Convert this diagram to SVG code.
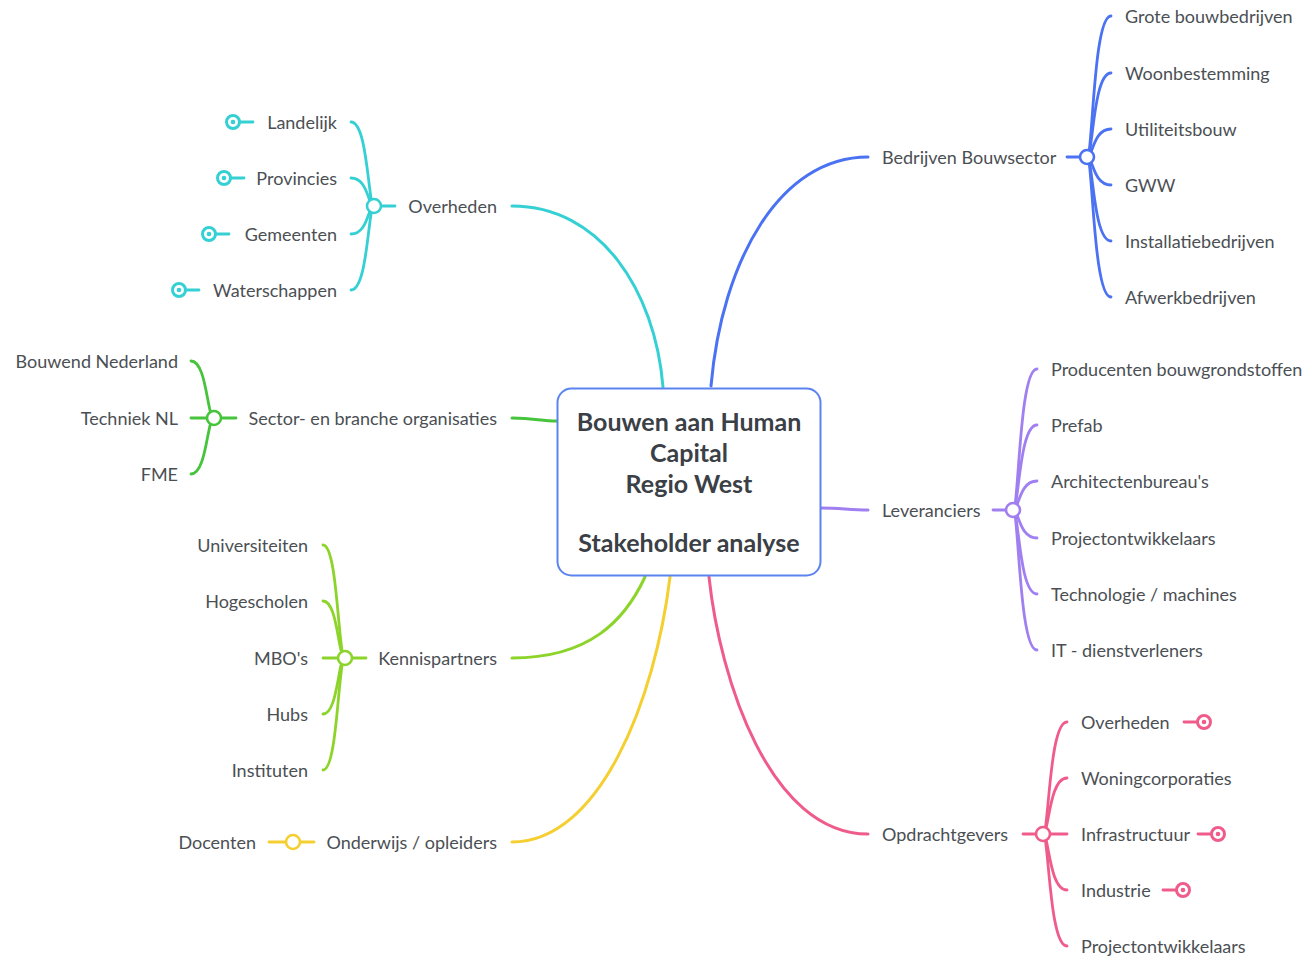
<svg xmlns="http://www.w3.org/2000/svg" width="1307" height="956" viewBox="0 0 1307 956">
<style>
text{font-family:Lato,"Noto Sans","Liberation Sans",sans-serif;font-size:18px;fill:#4b4f54;dominant-baseline:central}
.c{font-weight:bold;font-size:25px;fill:#3b4046;text-anchor:middle}
.e{text-anchor:end}
path,line{fill:none;stroke-linecap:round}
.m{stroke-width:3}
.s{stroke-width:2.8}
.j{fill:#fff;stroke-width:2.6}
.k{fill:#fff;stroke-width:3}
.cy{stroke:#35d0d4}.cyf{fill:#35d0d4}
.bl{stroke:#4a72f2}
.gr{stroke:#46c43c}
.li{stroke:#8cd42a}
.ye{stroke:#f5cf30}
.pu{stroke:#a07ff0}
.pk{stroke:#ef5c8b}.pkf{fill:#ef5c8b}
</style>
<rect width="1307" height="956" fill="#fff"/>
<g id="connectors">
<path class="m cy" d="M512,206 C600,206 655,290 663,387"/>
<path class="m bl" d="M868,157 C780,157 722,260 711,386"/>
<path class="m gr" d="M512,418 C535,418 540,421 557,421"/>
<path class="m pu" d="M821,508 C840,508 850,510 868,510"/>
<path class="m li" d="M512,658 C590,658 625,620 645,577"/>
<path class="m ye" d="M512,842 C600,842 655,700 670,577"/>
<path class="m pk" d="M868,834 C770,834 720,680 709,577"/>
<!-- cyan -->
<line class="s cy" x1="374" y1="206" x2="395" y2="206"/>
<path class="s cy" d="M374,206 C368,206 368,122 351,122"/>
<path class="s cy" d="M374,206 C368,206 368,178 351,178"/>
<path class="s cy" d="M374,206 C368,206 368,234 351,234"/>
<path class="s cy" d="M374,206 C368,206 368,290 351,290"/>
<!-- blue -->
<line class="s bl" x1="1067" y1="157" x2="1087" y2="157"/>
<path class="s bl" d="M1087,157 C1093,157 1093,16 1111,16"/>
<path class="s bl" d="M1087,157 C1093,157 1093,73 1111,73"/>
<path class="s bl" d="M1087,157 C1093,157 1093,129 1111,129"/>
<path class="s bl" d="M1087,157 C1093,157 1093,185 1111,185"/>
<path class="s bl" d="M1087,157 C1093,157 1093,241 1111,241"/>
<path class="s bl" d="M1087,157 C1093,157 1093,297 1111,297"/>
<!-- green -->
<line class="s gr" x1="214" y1="418" x2="236" y2="418"/>
<line class="s gr" x1="191" y1="418" x2="214" y2="418"/>
<path class="s gr" d="M214,418 C207,418 207,361 191,361"/>
<path class="s gr" d="M214,418 C207,418 207,474 191,474"/>
<!-- purple -->
<line class="s pu" x1="993" y1="510" x2="1013" y2="510"/>
<path class="s pu" d="M1013,510 C1019,510 1019,369 1037,369"/>
<path class="s pu" d="M1013,510 C1019,510 1019,425 1037,425"/>
<path class="s pu" d="M1013,510 C1019,510 1019,481 1037,481"/>
<path class="s pu" d="M1013,510 C1019,510 1019,538 1037,538"/>
<path class="s pu" d="M1013,510 C1019,510 1019,594 1037,594"/>
<path class="s pu" d="M1013,510 C1019,510 1019,650 1037,650"/>
<!-- lime -->
<line class="s li" x1="345" y1="658" x2="366" y2="658"/>
<line class="s li" x1="323" y1="658" x2="345" y2="658"/>
<path class="s li" d="M345,658 C338,658 338,545 323,545"/>
<path class="s li" d="M345,658 C338,658 338,601 323,601"/>
<path class="s li" d="M345,658 C338,658 338,714 323,714"/>
<path class="s li" d="M345,658 C338,658 338,770 323,770"/>
<!-- yellow -->
<line class="s ye" x1="293" y1="842" x2="314" y2="842"/>
<line class="s ye" x1="269" y1="842" x2="293" y2="842"/>
<!-- pink -->
<line class="s pk" x1="1023" y1="834" x2="1043" y2="834"/>
<line class="s pk" x1="1043" y1="834" x2="1067" y2="834"/>
<path class="s pk" d="M1043,834 C1049,834 1049,722 1067,722"/>
<path class="s pk" d="M1043,834 C1049,834 1049,778 1067,778"/>
<path class="s pk" d="M1043,834 C1049,834 1049,890 1067,890"/>
<path class="s pk" d="M1043,834 C1049,834 1049,946 1067,946"/>
</g>
<g id="center">
<rect x="557.5" y="388.5" width="263" height="187" rx="14" fill="#fff" stroke="#5b84ee" stroke-width="2"/>
<text class="c" x="689" y="421">Bouwen aan Human</text>
<text class="c" x="689" y="452">Capital</text>
<text class="c" x="689" y="483">Regio West</text>
<text class="c" x="689" y="542">Stakeholder analyse</text>
</g>
<g id="overheden">
<text class="e" x="497" y="206">Overheden</text>
<circle class="j cy" cx="374" cy="206" r="7"/>
</g>
<g id="landelijk"><text class="e" x="337" y="122">Landelijk</text><line class="s cy" x1="240" y1="122" x2="253" y2="122"/><circle class="k cy" cx="233" cy="122" r="6.5"/><circle class="cyf" cx="233" cy="122" r="2.3"/></g>
<g id="provincies"><text class="e" x="337" y="178">Provincies</text><line class="s cy" x1="231" y1="178" x2="244" y2="178"/><circle class="k cy" cx="224" cy="178" r="6.5"/><circle class="cyf" cx="224" cy="178" r="2.3"/></g>
<g id="gemeenten"><text class="e" x="337" y="234">Gemeenten</text><line class="s cy" x1="216" y1="234" x2="229" y2="234"/><circle class="k cy" cx="209" cy="234" r="6.5"/><circle class="cyf" cx="209" cy="234" r="2.3"/></g>
<g id="waterschappen"><text class="e" x="337" y="290">Waterschappen</text><line class="s cy" x1="186" y1="290" x2="199" y2="290"/><circle class="k cy" cx="179" cy="290" r="6.5"/><circle class="cyf" cx="179" cy="290" r="2.3"/></g>
<g id="bouwsector">
<text x="882" y="157">Bedrijven Bouwsector</text>
<circle class="j bl" cx="1087" cy="157" r="7"/>
</g>
<g id="b1"><text x="1125" y="16">Grote bouwbedrijven</text></g>
<g id="b2"><text x="1125" y="73">Woonbestemming</text></g>
<g id="b3"><text x="1125" y="129">Utiliteitsbouw</text></g>
<g id="b4"><text x="1125" y="185">GWW</text></g>
<g id="b5"><text x="1125" y="241">Installatiebedrijven</text></g>
<g id="b6"><text x="1125" y="297">Afwerkbedrijven</text></g>
<g id="sector">
<text class="e" x="497" y="418">Sector- en branche organisaties</text>
<circle class="j gr" cx="214" cy="418" r="7"/>
</g>
<g id="s1"><text class="e" x="178" y="361">Bouwend Nederland</text></g>
<g id="s2"><text class="e" x="178" y="418">Techniek NL</text></g>
<g id="s3"><text class="e" x="178" y="474">FME</text></g>
<g id="leveranciers">
<text x="882" y="510">Leveranciers</text>
<circle class="j pu" cx="1013" cy="510" r="7"/>
</g>
<g id="l1"><text x="1051" y="369">Producenten bouwgrondstoffen</text></g>
<g id="l2"><text x="1051" y="425">Prefab</text></g>
<g id="l3"><text x="1051" y="481">Architectenbureau's</text></g>
<g id="l4"><text x="1051" y="538">Projectontwikkelaars</text></g>
<g id="l5"><text x="1051" y="594">Technologie / machines</text></g>
<g id="l6"><text x="1051" y="650">IT - dienstverleners</text></g>
<g id="kennispartners">
<text class="e" x="497" y="658">Kennispartners</text>
<circle class="j li" cx="345" cy="658" r="7"/>
</g>
<g id="k1"><text class="e" x="308" y="545">Universiteiten</text></g>
<g id="k2"><text class="e" x="308" y="601">Hogescholen</text></g>
<g id="k3"><text class="e" x="308" y="658">MBO's</text></g>
<g id="k4"><text class="e" x="308" y="714">Hubs</text></g>
<g id="k5"><text class="e" x="308" y="770">Instituten</text></g>
<g id="onderwijs">
<text class="e" x="497" y="842">Onderwijs / opleiders</text>
<circle class="j ye" cx="293" cy="842" r="7"/>
</g>
<g id="docenten"><text class="e" x="256" y="842">Docenten</text></g>
<g id="opdrachtgevers">
<text x="882" y="834">Opdrachtgevers</text>
<circle class="j pk" cx="1043" cy="834" r="7"/>
</g>
<g id="o1"><text x="1081" y="722">Overheden</text><line class="s pk" x1="1184" y1="722" x2="1197" y2="722"/><circle class="k pk" cx="1204" cy="722" r="6.5"/><circle class="pkf" cx="1204" cy="722" r="2.3"/></g>
<g id="o2"><text x="1081" y="778">Woningcorporaties</text></g>
<g id="o3"><text x="1081" y="834">Infrastructuur</text><line class="s pk" x1="1198" y1="834" x2="1211" y2="834"/><circle class="k pk" cx="1218" cy="834" r="6.5"/><circle class="pkf" cx="1218" cy="834" r="2.3"/></g>
<g id="o4"><text x="1081" y="890">Industrie</text><line class="s pk" x1="1163" y1="890" x2="1176" y2="890"/><circle class="k pk" cx="1183" cy="890" r="6.5"/><circle class="pkf" cx="1183" cy="890" r="2.3"/></g>
<g id="o5"><text x="1081" y="946">Projectontwikkelaars</text></g>
</svg>
